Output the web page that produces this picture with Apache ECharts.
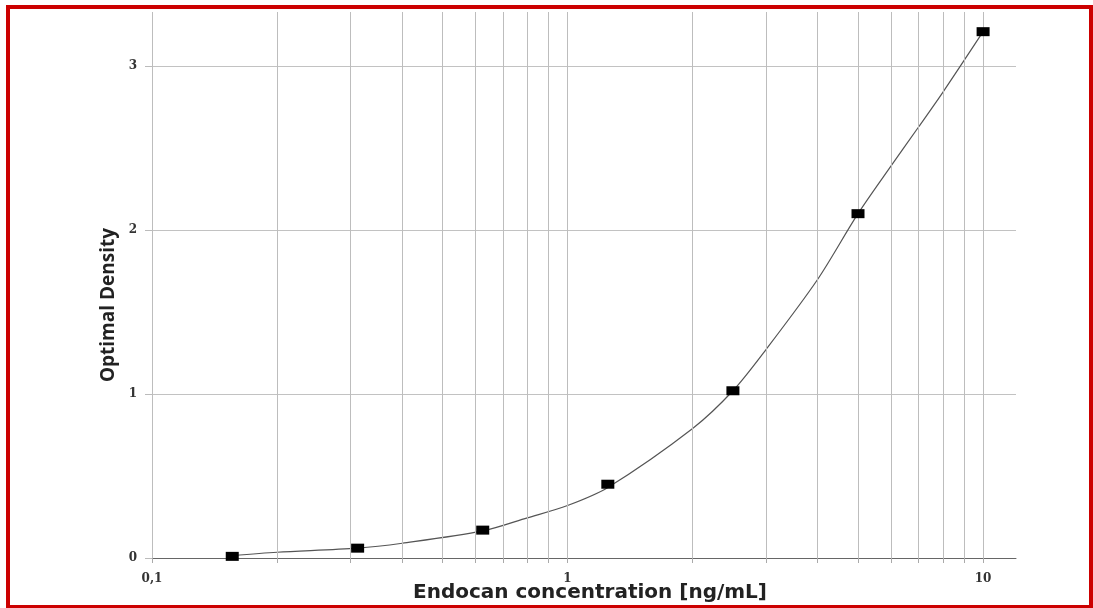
<!DOCTYPE html>
<html><head><meta charset="utf-8">
<script src="https://cdn.jsdelivr.net/npm/echarts@6/dist/echarts.min.js"></script>
<style>html,body{margin:0;padding:0;background:#fff}#c{width:1093px;height:608px}</style>
</head>
<body><div id="c"></div>
<script>
// Measured standards
const concentrations = [0.156, 0.3125, 0.625, 1.25, 2.5, 5, 10];
const densities = [0.01, 0.06, 0.17, 0.45, 1.02, 2.10, 3.21];
// Fitted curve
const fitX = [0.156, 0.2, 0.3125, 0.4, 0.625, 0.8, 1, 1.25, 2, 2.5, 3, 4, 5, 6, 7, 8, 10];
const fitY = [0.015, 0.035, 0.06, 0.09, 0.165, 0.245, 0.32, 0.43, 0.79, 1.02, 1.27, 1.70, 2.10, 2.39, 2.63, 2.84, 3.21];
// Axis ticks
const xGridValues = [0.1,0.2,0.3,0.4,0.5,0.6,0.7,0.8,0.9,1,2,3,4,5,6,7,8,9,10];
const xLabelValues = [0.1, 1, 10];
const xLabelTexts = ['0,1', '1', '10'];
const yTicks = [0, 1, 2, 3];

const chart = echarts.init(document.getElementById('c'), null, {renderer: 'canvas'});
const pts = concentrations.map((c, i) => [c, densities[i]]);
const fit = fitX.map((c, i) => [c, fitY[i]]);

chart.setOption({
  animation: false,
  backgroundColor: '#fff',
  grid: {left: 152, right: 77, top: 12, bottom: 50},
  xAxis: {
    type: 'log', logBase: 10, min: 0.1, max: 12,
    axisLine: {show: true, lineStyle: {color: '#666', width: 1}},
    axisTick: {show: true, length: 5, customValues: xGridValues, lineStyle: {color: '#aaa'}},
    axisLabel: {
      customValues: xLabelValues,
      margin: 15, fontSize: 12, fontWeight: 'bold', color: '#333', fontFamily: 'DejaVu Serif',
      formatter: v => { const i = xLabelValues.findIndex(t => Math.abs(t - v) < 1e-9); return i >= 0 ? xLabelTexts[i] : ''; }
    },
    splitLine: {show: false}
  },
  yAxis: {
    type: 'value', min: 0, max: 3.33, interval: 1,
    axisLine: {show: false},
    axisTick: {show: true, length: 7, customValues: yTicks, lineStyle: {color: '#bbb'}},
    axisLabel: {
      customValues: yTicks,
      margin: 15, fontSize: 12, fontWeight: 'bold', color: '#333', fontFamily: 'DejaVu Serif'
    },
    splitLine: {show: true, lineStyle: {color: '#c2c2c2', width: 1}}
  },
  series: [
    {
      type: 'line', data: fit, smooth: 0.3, showSymbol: false, symbol: 'none',
      lineStyle: {color: '#555', width: 1.2}, silent: true, z: 3,
      markLine: {
        silent: true, symbol: ['none', 'none'], label: {show: false},
        lineStyle: {color: '#bdbdbd', type: 'solid', width: 1},
        data: xGridValues.map(v => ({xAxis: v}))
      }
    },
    {
      type: 'scatter', data: pts, symbol: 'rect', symbolSize: [13, 9],
      itemStyle: {color: '#000', opacity: 1}, z: 5
    }
  ],
  graphic: [
    {type: 'rect', shape: {x: 8, y: 7, width: 1083, height: 600}, style: {fill: 'none', stroke: '#cc0000', lineWidth: 4}, z: 100},
    {type: 'text', x: 590, y: 593, style: {text: 'Endocan concentration [ng/mL]', font: 'bold 20px "DejaVu Sans"', fill: '#222', textAlign: 'center', textVerticalAlign: 'middle'}},
    {type: 'text', x: 109, y: 305, rotation: Math.PI / 2, style: {text: 'Optimal Density', font: 'bold 19px "Open Sans"', fill: '#222', textAlign: 'center', textVerticalAlign: 'middle'}}
  ]
});
</script>
</body></html>
